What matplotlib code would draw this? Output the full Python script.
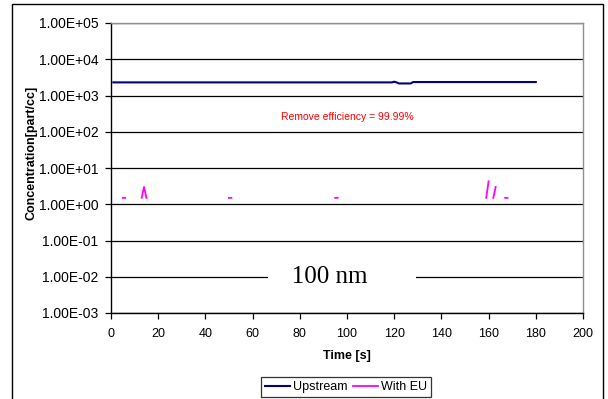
import numpy as np
import matplotlib
matplotlib.use("Agg")
import matplotlib.pyplot as plt
from matplotlib.ticker import FuncFormatter, LogLocator, NullLocator
from matplotlib.patches import Rectangle

plt.rcParams['font.family'] = ['Liberation Sans', 'DejaVu Sans']

# dati
up_time = [1, 119, 120, 121, 122, 127, 128, 180]
up_conc = [2300, 2300, 2400, 2300, 2150, 2150, 2350, 2350]

nan = np.nan
eu_time = [5, 6, 7, 13, 14, 15, 16, 50, 51, 52, 95, 96, 97,
           159, 160, 161, 162, 163, 164, 167, 168]
eu_conc = [1.5, 1.5, nan, 1.5, 3.0, 1.5, nan, 1.5, 1.5, nan, 1.5, 1.5, nan,
           1.5, 4.3, nan, 1.5, 3.0, nan, 1.5, 1.5]

x_ticks = list(range(0, 201, 20))

fig = plt.figure(figsize=(6.08, 3.99), dpi=100)
ax = fig.add_axes([111 / 608, 1 - 313 / 399, 472 / 608, 290 / 399])

ax.plot(up_time, up_conc, color='#000080', lw=1.5, label='Upstream')
ax.plot(eu_time, eu_conc, color='#FF00FF', lw=1.3, label='With EU')

ax.set_yscale('log')
ax.set_ylim(1e-3, 1e5)
ax.set_xlim(0, 200)
ax.set_xticks(x_ticks)
ax.yaxis.set_major_locator(LogLocator(base=10, numticks=20))
ax.yaxis.set_minor_locator(NullLocator())
ax.yaxis.set_major_formatter(FuncFormatter(lambda v, p: f"{v:.2E}"))

ax.grid(True, axis='y', color='black', lw=0.9)
ax.tick_params(direction='out', length=4, width=0.9)
ax.tick_params(axis='x', labelsize=9, pad=7)
ax.tick_params(axis='y', labelsize=10, pad=5)

for s in ['left', 'bottom']:
    ax.spines[s].set_color('black')
    ax.spines[s].set_linewidth(1.0)
for s in ['top', 'right']:
    ax.spines[s].set_color('#909090')
    ax.spines[s].set_linewidth(1.0)

ax.set_xlabel('Time [s]', fontsize=9, fontweight='bold', labelpad=7)
ax.set_ylabel('Concentration[part/cc]', fontsize=9, fontweight='bold', labelpad=1)
ax.yaxis.label.set_y(0.553)

# testi
ax.text(100, 250, 'Remove efficiency = 99.99%', color='#FF0000', fontsize=7.5,
        ha='center', va='center')
ax.text(97.9, 1e-2, '   100 nm       ', family=['Liberation Serif', 'DejaVu Serif'],
        fontsize=18, ha='center', va='center',
        bbox=dict(facecolor='white', edgecolor='none', boxstyle='square,pad=0.2'))

leg = fig.legend(loc='center', bbox_to_anchor=(346 / 608, 1 - 387 / 399), ncol=2,
                 fontsize=9, frameon=True, fancybox=False, edgecolor='black',
                 handlelength=2.0, handletextpad=0.2, columnspacing=0.5,
                 borderpad=0.3, borderaxespad=0)
leg.get_frame().set_linewidth(0.9)

# cornice esterna
fig.patches.append(Rectangle((12 / 608, -0.01), 591 / 608, 1.01 - 4 / 399,
                             transform=fig.transFigure, fill=False,
                             edgecolor='black', lw=1.0))

fig.savefig('out.png', dpi=100)
